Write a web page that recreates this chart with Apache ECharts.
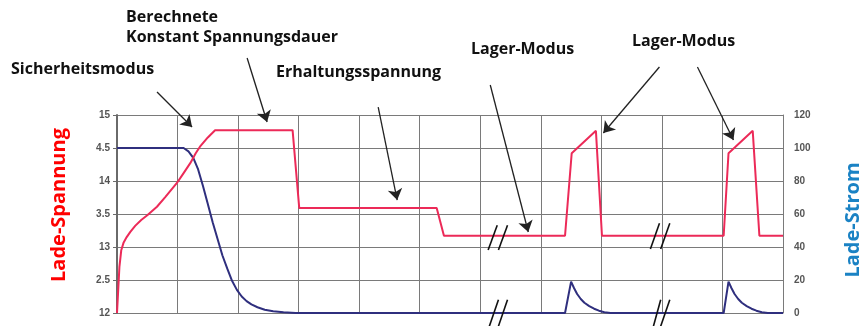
<!DOCTYPE html>
<html>
<head>
<meta charset="utf-8">
<title>Lade-Spannung / Lade-Strom</title>
<script src="https://cdn.jsdelivr.net/npm/echarts@6/dist/echarts.min.js"></script>
<style>
  html, body { margin: 0; padding: 0; background: #fff; }
  #chart { width: 861px; height: 326px; }
</style>
</head>
<body>
<div id="chart"></div>
<script>
// Charging voltage (V) over time, time measured in grid columns
const voltageData = [
  [0, 12.0], [0.02, 12.35], [0.04, 12.7], [0.07, 12.95], [0.11, 13.07],
  [0.16, 13.15], [0.22, 13.23], [0.3, 13.32], [0.4, 13.41], [0.5, 13.48],
  [0.66, 13.61], [0.8, 13.76], [0.99, 13.97], [1.1, 14.12], [1.21, 14.27],
  [1.3, 14.42], [1.37, 14.52], [1.5, 14.66], [1.62, 14.77], [2.9, 14.77],
  [3.01, 13.59], [5.28, 13.59], [5.4, 13.17], [7.4, 13.17], [7.51, 14.42],
  [7.91, 14.76], [8.01, 13.17], [10.02, 13.17], [10.1, 14.42], [10.5, 14.76],
  [10.61, 13.17], [11, 13.17]
];

// Charging current over time
const currentData = [
  [0, 100], [1.1, 100], [1.18, 98], [1.26, 94], [1.34, 87], [1.42, 77],
  [1.5, 66], [1.58, 55], [1.66, 45], [1.74, 35], [1.82, 27], [1.9, 19.5],
  [1.98, 14], [2.06, 10], [2.14, 7.2], [2.22, 5.2], [2.32, 3.5], [2.44, 2],
  [2.58, 1], [2.75, 0.4], [2.95, 0], [7.4, 0],
  [7.5, 19], [7.55, 15], [7.6, 11.5], [7.66, 8.5], [7.72, 6.2], [7.8, 4.2],
  [7.88, 2.6], [7.96, 1.4], [8.05, 0.5], [8.15, 0], [10.02, 0],
  [10.1, 19], [10.15, 15], [10.2, 11.5], [10.26, 8.5], [10.32, 6.2], [10.4, 4.2],
  [10.48, 2.6], [10.56, 1.4], [10.65, 0.5], [10.75, 0], [11, 0]
];

// Tick labels of the voltage axis, bottom to top
const voltageTickLabels = ['12', '2.5', '13', '3.5', '14', '4.5', '15'];
// Tick labels of the current axis, bottom to top
const currentTickLabels = ['0', '20', '40', '60', '80', '100', '120'];

// Annotation arrows in (time, voltage) units: [tail, tip]
const arrowCoords = [
  [[0.661, 15.348], [1.24, 14.818]],
  [[2.149, 15.864], [2.479, 14.894]],
  [[4.314, 15.121], [4.628, 13.712]],
  [[6.165, 15.455], [6.793, 13.227]],
  [[8.959, 15.727], [8.033, 14.727]],
  [[9.587, 15.727], [10.182, 14.621]]
];

// Time-axis break marks "//" drawn across both traces
const breakMarks = [
  [[6.13, 12.955], [6.28, 13.33]], [[6.30, 12.955], [6.45, 13.33]],
  [[6.15, 11.80], [6.30, 12.20]], [[6.30, 11.80], [6.45, 12.20]],
  [[8.81, 12.97], [8.96, 13.36]], [[8.98, 12.97], [9.13, 13.36]],
  [[8.86, 11.80], [8.98, 12.20]], [[8.98, 11.80], [9.13, 12.20]]
];

const chart = echarts.init(document.getElementById('chart'), null, { renderer: 'canvas' });

const gridColor = '#7a7a7a';
const labelFont = { fontSize: 10, color: '#555', fontFamily: 'Liberation Sans, Arial, sans-serif', fontWeight: 'bold' };
const noteFont = 'bold 16px "Open Sans", sans-serif';

function note(text, x, y) {
  return {
    type: 'text', left: x, top: y,
    style: { text: text, font: noteFont, fill: '#111' }
  };
}

chart.setOption({
  animation: false,
  backgroundColor: '#fff',
  grid: { left: 117, right: 78, top: 115, bottom: 13 },
  xAxis: {
    type: 'value', min: 0, max: 11, interval: 1,
    axisLine: { show: false }, axisTick: { show: false }, axisLabel: { show: false },
    splitLine: { show: true, lineStyle: { color: gridColor, width: 1 } }
  },
  yAxis: [
    {
      type: 'value', min: 12, max: 15, interval: 0.5, position: 'left',
      axisLine: { show: true, lineStyle: { color: '#6a6a6a', width: 2 } },
      axisTick: { show: true, length: 4, lineStyle: { color: '#6a6a6a' } },
      axisLabel: Object.assign({
        margin: 7,
        formatter: function (v) { return voltageTickLabels[Math.round((v - 12) / 0.5)]; }
      }, labelFont),
      splitLine: { show: true, lineStyle: { color: gridColor, width: 1 } }
    },
    {
      type: 'value', min: 0, max: 120, interval: 20, position: 'right',
      axisLine: { show: true, lineStyle: { color: gridColor, width: 1 } },
      axisTick: { show: false },
      axisLabel: Object.assign({
        margin: 11,
        formatter: function (v) { return currentTickLabels[Math.round(v / 20)]; }
      }, labelFont),
      splitLine: { show: false }
    }
  ],
  series: [
    {
      name: 'Lade-Strom', type: 'line', yAxisIndex: 1, data: currentData,
      showSymbol: false, smooth: false,
      lineStyle: { color: '#2f2f7e', width: 2 }
    },
    {
      name: 'Lade-Spannung', type: 'line', yAxisIndex: 0, data: voltageData,
      showSymbol: false, smooth: false,
      lineStyle: { color: '#ec2a58', width: 2 }
    },
    {
      type: 'lines', coordinateSystem: 'cartesian2d', yAxisIndex: 0, clip: false,
      symbol: ['none', 'none'],
      lineStyle: { color: '#111', width: 1.6, opacity: 1, curveness: 0 },
      data: breakMarks.map(function (c) { return { coords: c }; }),
      z: 5
    },
    {
      type: 'lines', coordinateSystem: 'cartesian2d', yAxisIndex: 0, clip: false,
      symbol: ['none', 'arrow'], symbolSize: 11,
      lineStyle: { color: '#222', width: 1.3, opacity: 1, curveness: 0 },
      data: arrowCoords.map(function (c) { return { coords: c }; }),
      z: 6
    }
  ],
  graphic: [
    note('Berechnete', 126, 9),
    note('Konstant Spannungsdauer', 126, 29),
    note('Sicherheitsmodus', 11, 61),
    note('Erhaltungsspannung', 276, 64),
    note('Lager-Modus', 471, 41),
    note('Lager-Modus', 632, 33),
    {
      type: 'text', x: 59, y: 205, rotation: Math.PI / 2,
      style: { text: 'Lade-Spannung', font: 'bold 20px "Open Sans", sans-serif', fill: '#ff0000', align: 'center', verticalAlign: 'middle' }
    },
    {
      type: 'text', x: 853, y: 220, rotation: Math.PI / 2,
      style: { text: 'Lade-Strom', font: 'bold 20px "Open Sans", sans-serif', fill: '#1a82c4', align: 'center', verticalAlign: 'middle' }
    }
  ]
});
</script>
</body>
</html>
